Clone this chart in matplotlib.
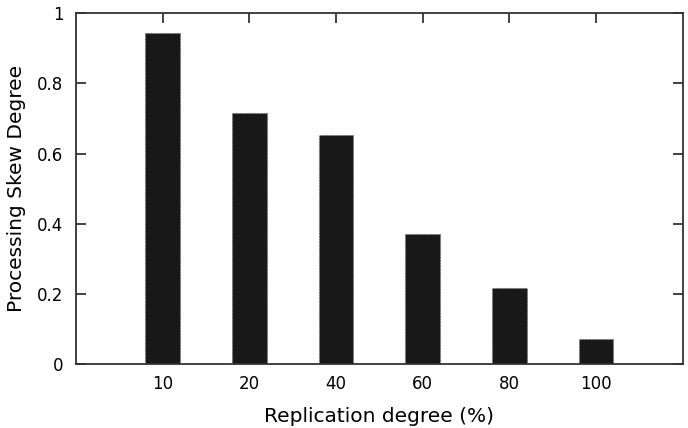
import matplotlib
matplotlib.use("Agg")
import matplotlib.pyplot as plt

categories = ["10", "20", "40", "60", "80", "100"]
skew_degree = [0.945, 0.717, 0.653, 0.370, 0.217, 0.071]

fig = plt.figure(figsize=(6.88, 4.28), dpi=100)
ax = fig.add_axes([0.1105, 0.149, 0.882, 0.82])

positions = list(range(1, len(categories) + 1))
ax.bar(positions, skew_degree, width=0.4, color="#181818",
       edgecolor="#6a6a6a", linestyle=":", linewidth=0.8, zorder=3)

ax.set_xlim(0, 7)
ax.set_ylim(0, 1)
ax.set_xticks(positions)
ax.set_xticklabels(categories)
ax.set_yticks([0, 0.2, 0.4, 0.6, 0.8, 1])
ax.set_yticklabels(["0", "0.2", "0.4", "0.6", "0.8", "1"])

ax.tick_params(direction="in", length=7, width=1.2, color="#222222",
               top=True, right=True, labelsize=12, pad=9)
ax.tick_params(axis="x", pad=8)

for s in ax.spines.values():
    s.set_linewidth(1.3)
    s.set_color("#333333")
    s.set_zorder(4)

ax.set_xlabel("Replication degree (%)", fontsize=14.5, labelpad=10)
ax.set_ylabel("Processing Skew Degree", fontsize=14.5, labelpad=8)

fig.savefig("out.png", dpi=100)
